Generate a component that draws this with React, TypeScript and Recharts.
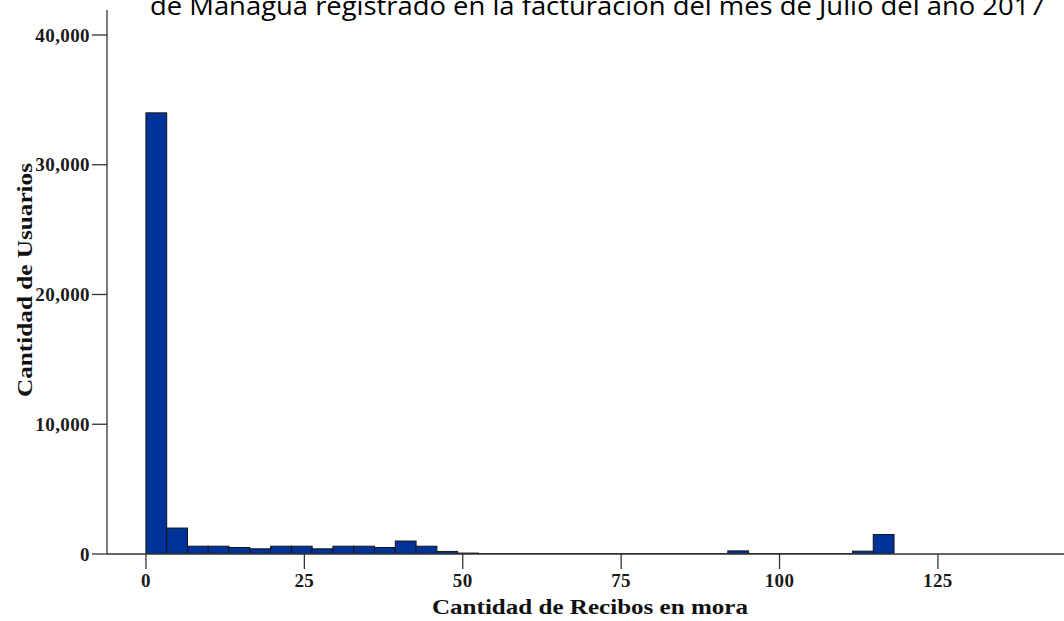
import React from 'react';
import { BarChart, Bar, XAxis, YAxis, Label } from 'recharts';

// Histogram bins (start of each bin, in "Recibos en mora")
const binStarts = [
  0, 3.28, 6.56, 9.84, 13.12, 16.4, 19.68, 22.96, 26.24, 29.52, 32.8, 36.08,
  39.36, 42.64, 45.92, 49.2, 52.48, 55.76, 59.04, 62.32, 65.6, 68.88, 72.16, 75.44,
  78.72, 82, 85.28, 88.56, 91.84, 95.12, 98.4, 101.68, 104.96, 108.24, 111.52, 114.8,
];
const BIN_WIDTH = 3.28;

// Number of users per bin
const userCounts = [
  34000, 2000, 600, 600, 500, 400, 600, 600, 400, 600, 600, 500,
  1000, 600, 200, 70, 30, 30, 30, 30, 30, 30, 30, 30,
  30, 30, 30, 30, 240, 30, 30, 30, 30, 30, 220, 1500,
];

const xTicks = [0, 25, 50, 75, 100, 125];
const yTicks = [0, 10000, 20000, 30000, 40000];

const titleText = 'de Managua registrado en la facturación del mes de Julio del año 2017';
const xLabelText = 'Cantidad de Recibos en mora';
const yLabelText = 'Cantidad de Usuarios';

const X_DOMAIN: [number, number] = [-6.15, 144.9];
const Y_DOMAIN: [number, number] = [0, 41927];

const data = binStarts.map((s, i) => ({ center: s + BIN_WIDTH / 2, count: userCounts[i] }));

const W = 1064;
const H = 621;
const Y_AXIS_W = 107;
const X_AXIS_H = 67;
const TOP = 10;
const plotW = W - Y_AXIS_W;
const barPx = (plotW / (X_DOMAIN[1] - X_DOMAIN[0])) * BIN_WIDTH;

const serif = '"Liberation Serif", "Times New Roman", serif';
const tickStyle = { fontFamily: serif, fontWeight: 700, fontSize: 19, fill: '#1a1a1a', letterSpacing: 0.4 };

const BinShape = (props: any) => {
  const { x, y, width, height } = props;
  if (height == null || width == null) return null;
  return (
    <rect
      x={x}
      y={y}
      width={barPx}
      height={Math.max(height, 0)}
      fill="#003399"
      stroke="#151515"
      strokeWidth={1}
      transform={`translate(${(width - barPx) / 2}, 0)`}
    />
  );
};

export default function App() {
  return (
    <div style={{ position: 'fixed', left: 0, top: 0, width: W, height: H, background: '#fff' }}>
      <BarChart
        width={W}
        height={H}
        data={data}
        margin={{ top: TOP, right: 0, bottom: 0, left: 0 }}
        barCategoryGap={0}
        barGap={0}
      >
        <XAxis
          type="number"
          dataKey="center"
          domain={X_DOMAIN}
          ticks={xTicks}
          allowDataOverflow
          height={X_AXIS_H}
          tickSize={15}
          tickMargin={5}
          axisLine={{ stroke: '#333', strokeWidth: 1.3 }}
          tickLine={{ stroke: '#333', strokeWidth: 1.3 }}
          tick={tickStyle}
        >
          <Label
            content={(props: any) => {
              const vb = props.viewBox || { x: Y_AXIS_W, y: H - X_AXIS_H, width: plotW, height: X_AXIS_H };
              return (
                <text
                  x={432}
                  y={vb.y + 60}
                  textLength={316}
                  lengthAdjust="spacingAndGlyphs"
                  style={{ fontFamily: serif, fontWeight: 700, fontSize: 22, fill: '#111' }}
                >
                  {xLabelText}
                </text>
              );
            }}
          />
        </XAxis>
        <YAxis
          type="number"
          domain={Y_DOMAIN}
          ticks={yTicks}
          allowDataOverflow
          width={Y_AXIS_W}
          tickSize={15}
          tickMargin={2}
          tickFormatter={(v: number) => v.toLocaleString('en-US')}
          axisLine={{ stroke: '#333', strokeWidth: 1.3 }}
          tickLine={{ stroke: '#333', strokeWidth: 1.3 }}
          tick={tickStyle}
        >
          <Label
            content={() => (
              <text
                x={0}
                y={0}
                transform="translate(32, 397) rotate(-90)"
                textLength={234}
                lengthAdjust="spacingAndGlyphs"
                style={{ fontFamily: serif, fontWeight: 700, fontSize: 22, fill: '#111' }}
              >
                {yLabelText}
              </text>
            )}
          />
        </YAxis>
        <Bar
          dataKey="count"
          fill="#003399"
          stroke="#151515"
          strokeWidth={1}
          barSize={barPx}
          shape={BinShape}
          isAnimationActive={false}
        />
      </BarChart>
      <svg width={W} height={40} style={{ position: 'absolute', left: 0, top: 0 }}>
        <text
          x={150}
          y={15}
          textLength={895}
          lengthAdjust="spacingAndGlyphs"
          style={{ fontFamily: '"Open Sans", "Liberation Sans", sans-serif', fontSize: 26, fill: '#000' }}
        >
          {titleText}
        </text>
      </svg>
    </div>
  );
}
